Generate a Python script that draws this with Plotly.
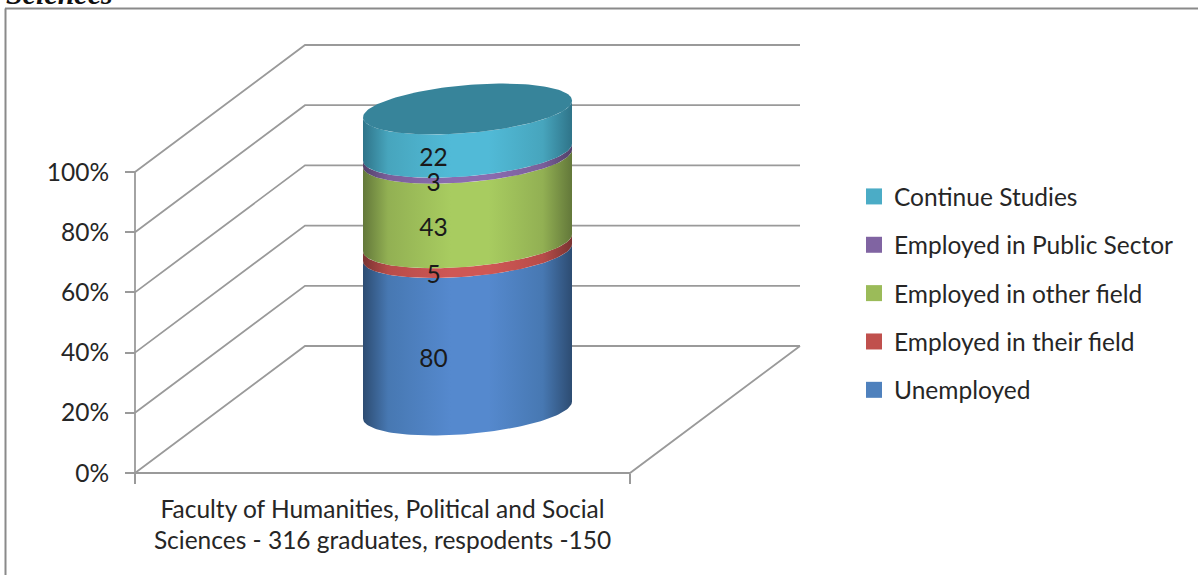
import numpy as np
import plotly.graph_objects as go

category = "Faculty of Humanities, Political and Social<br>Sciences - 316 graduates, respodents -150"
series_names = ["Unemployed", "Employed in their field", "Employed in other field",
                "Employed in Public Sector", "Continue Studies"]
series_values = [80, 5, 43, 3, 22]
swatch_colors = ["#4f81bd", "#c0504d", "#9bbb59", "#8064a2", "#4bacc6"]
bright_colors = ["#5589ce", "#cf5755", "#a8cc60", "#8a6caf", "#51bad7"]
mid_colors = ["#4778b2", "#b74c49", "#92b053", "#7a5f9a", "#47a5bd"]
dark_colors = ["#2d4c72", "#7a3432", "#63783a", "#524069", "#2f7489"]
top_color = "#37849a"
pct_ticks = [0, 20, 40, 60, 80, 100]
pct_labels = ["0%", "20%", "40%", "60%", "80%", "100%"]

W, H = 1198, 575
X0, X1 = 135, 630          # front floor edge, px
Y0, Y100 = 473, 172        # 0 % and 100 % on the front axis, px
DX, DY = 170, 127          # depth offset, px
ppx = X1 - X0
ppy = (Y0 - Y100) / 100.0
dep_x = DX / ppx
dep_y = DY / ppy
GRID = "#9a9a9a"
FONT = "Lato"
FS = 24.5

fig = go.Figure()

# walls and floor
wx, wy = [], []
for p in pct_ticks:
    wx += [0, dep_x, 1 + dep_x, None]
    wy += [p, p + dep_y, p + dep_y, None]
wx += [0, 0, None, 0, 1, 1 + dep_x]
wy += [0, 100, None, 0, 0, dep_y]
fig.add_trace(go.Scatter(x=wx, y=wy, mode="lines", line=dict(color=GRID, width=1.8),
                         showlegend=False, hoverinfo="skip"))

# cylinder
xc = 0.5 + dep_x / 2
yc = dep_y / 2 - 0.5 / ppy
a = 104.5 / ppx
tilt = 8.5 / ppy
b = 24.0 / ppy
total = sum(series_values)


def rim(level, t):
    return xc + a * np.cos(t), yc + level + tilt * np.cos(t) + b * np.sin(t)


front = np.linspace(np.pi, 2 * np.pi, 80)
cum = 0.0
for i, v in enumerate(series_values):
    lo = cum / total * 100
    hi = (cum + v) / total * 100
    xl, yl = rim(lo, front)
    xh, yh = rim(hi, front[::-1])
    fig.add_trace(go.Scatter(
        x=np.r_[xl, xh].tolist(), y=np.r_[yl, yh].tolist(), mode="lines",
        line=dict(width=0), fill="toself",
        fillgradient=dict(type="horizontal", colorscale=[
            [0, dark_colors[i]], [0.12, mid_colors[i]], [0.42, bright_colors[i]],
            [0.6, bright_colors[i]], [0.86, mid_colors[i]], [1, dark_colors[i]]]),
        showlegend=False, hoverinfo="skip"))
    cum += v

tt = np.linspace(0, 2 * np.pi, 160)
xt, yt = rim(100.0, tt)
fig.add_trace(go.Scatter(x=xt.tolist(), y=yt.tolist(), mode="lines", line=dict(width=0),
                         fill="toself", fillcolor=top_color, showlegend=False, hoverinfo="skip"))

# data labels
cum = 0.0
lx, ly = [], []
for v in series_values:
    mid = (cum + v / 2) / total * 100
    lx.append(xc - 34 / ppx)
    ly.append(yc + mid - (b + 5.5 / ppy))
    cum += v
fig.add_trace(go.Scatter(x=lx, y=ly, mode="text", text=[str(v) for v in series_values],
                         textposition="middle center",
                         textfont=dict(family=FONT, size=FS, color="#1a1a1a"),
                         showlegend=False, hoverinfo="skip"))

# legend entries, top row first
for name, col in list(zip(series_names, swatch_colors))[::-1]:
    fig.add_trace(go.Scatter(x=[None], y=[None], mode="markers", name=name, legendgroup=name,
                             marker=dict(symbol="square", size=16, color=col)))

fig.update_layout(
    width=W, height=H, margin=dict(l=0, r=0, t=0, b=0),
    paper_bgcolor="white", plot_bgcolor="white",
    font=dict(family=FONT, size=FS, color="#262626"),
    xaxis=dict(range=[-X0 / ppx, (W - X0) / ppx], showgrid=False, zeroline=False,
               anchor="free", position=(H - Y0) / H,
               tickmode="array", tickvals=[0.5], ticktext=[category], ticklen=0,
               ticklabelstandoff=19,
               minor=dict(tickmode="array", tickvals=[0, 1], ticks="outside", ticklen=10,
                          tickcolor=GRID, tickwidth=1.8)),
    yaxis=dict(range=[(Y0 - H) / ppy, Y0 / ppy], showgrid=False, zeroline=False,
               anchor="free", position=X0 / W,
               tickmode="array", tickvals=pct_ticks, ticktext=pct_labels, ticks="outside",
               ticklen=10, tickcolor=GRID, tickwidth=1.8, ticklabelstandoff=11),
    legend=dict(x=854 / W, y=1 - 174 / H, xanchor="left", yanchor="top",
                traceorder="grouped", tracegroupgap=13.5,
                font=dict(family=FONT, size=FS, color="#262626"), bgcolor="rgba(0,0,0,0)"),
    shapes=[
        dict(type="line", xref="paper", yref="paper", x0=5 / W, x1=1, y0=1 - 8.5 / H, y1=1 - 8.5 / H,
             line=dict(color="#8a8a8a", width=2)),
        dict(type="line", xref="paper", yref="paper", x0=5.5 / W, x1=5.5 / W, y0=0, y1=1 - 8.5 / H,
             line=dict(color="#8a8a8a", width=2)),
    ],
    annotations=[dict(text="<b><i>Sciences</i></b>", xref="paper", yref="paper", x=4 / W, y=1,
                      xanchor="left", yanchor="bottom", yshift=-12, showarrow=False,
                      font=dict(family="Liberation Serif", size=30, color="#111111"))],
)
fig.write_html("out.html", config={"displayModeBar": False},
               post_script="document.body.style.margin='0';")
